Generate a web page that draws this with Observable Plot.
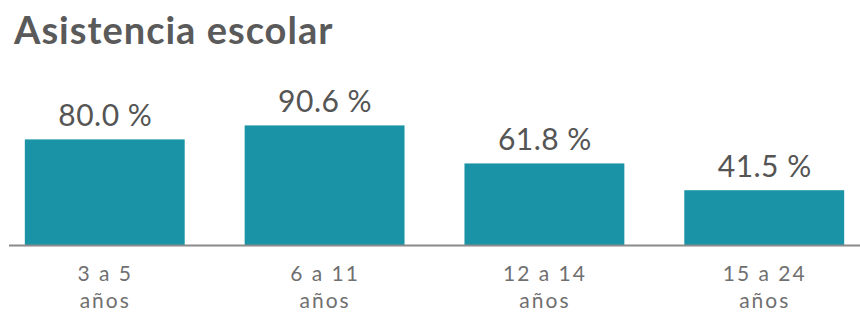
<!DOCTYPE html>
<html>
<head>
<meta charset="utf-8">
<script src="https://cdn.jsdelivr.net/npm/d3@7"></script>
<script src="https://cdn.jsdelivr.net/npm/@observablehq/plot@0.6"></script>
<style>
  html, body { margin: 0; padding: 0; background: #fff; }
  #title { font-family: Lato, sans-serif; font-weight: 700; font-size: 38px; color: #5a5a5a;
           height: 60px; line-height: 58px; padding-left: 14px; box-sizing: border-box; letter-spacing: 1px; }
  #chart svg { display: block; }
</style>
</head>
<body>
<div id="title">Asistencia escolar</div>
<div id="chart"></div>
<script>
const categories = ["3 a 5\naños", "6 a 11\naños", "12 a 14\naños", "15 a 24\naños"];
const values = [80.0, 90.6, 61.8, 41.5];

const data = categories.map((c, i) => ({ cat: c, value: values[i] }));

const chart = Plot.plot({
  width: 860,
  height: 258,
  marginLeft: 9,
  marginRight: 0,
  marginTop: 53,
  marginBottom: 73,
  x: { domain: categories, paddingInner: 0.2727, paddingOuter: 0.072, round: false, label: null },
  y: { domain: [0, 100], axis: null },
  style: { fontFamily: "Lato, sans-serif", color: "#666", background: "#fff" },
  marks: [
    Plot.barY(data, { x: "cat", y: "value", fill: "#1a93a6" }),
    Plot.ruleY([0], { stroke: "#8a8a8a", strokeWidth: 2 }),
    Plot.text(data, { x: "cat", y: "value", text: d => d.value.toFixed(1) + " %", lineAnchor: "bottom", dy: -14, fontSize: 30, fill: "#555" }),
    Plot.axisX({ tickSize: 0, tickPadding: 16, fontSize: 21, lineHeight: 1.3, fill: "#707070", label: null })
  ]
});
chart.querySelectorAll("[aria-label='x-axis tick label'] text").forEach(t => t.setAttribute("letter-spacing", "2px"));
chart.querySelectorAll("[aria-label='text'] text").forEach(t => t.setAttribute("letter-spacing", "0.5px"));
document.getElementById("chart").appendChild(chart);
</script>
</body>
</html>
